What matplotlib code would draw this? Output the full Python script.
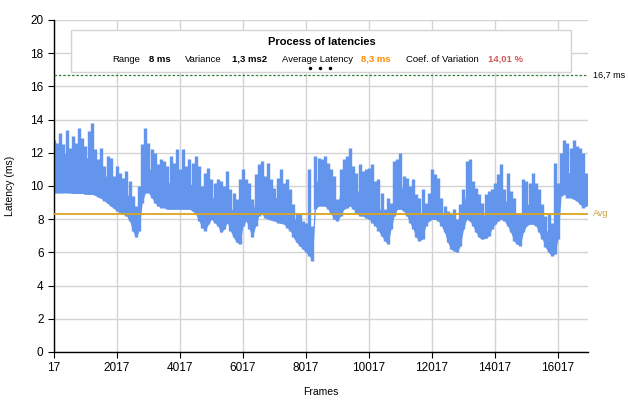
import numpy as np
import matplotlib
matplotlib.use("Agg")
import matplotlib.pyplot as plt

plt.rcParams["font.family"] = ["Liberation Sans", "DejaVu Sans"]

# data <<<
# one sample every 100 frames, starting at frame 17
frame_start = 17
frame_step = 100

lat_low = [
    9.6, 9.6, 9.6, 9.6, 9.6, 9.6, 9.55, 9.55, 9.55, 9.55,
    9.5, 9.5, 9.5, 9.45, 9.35, 9.25, 9.1, 8.95, 8.8, 8.65,
    8.5, 8.4, 8.3, 8.2, 7.9, 7.3, 6.9, 7.3, 9.0, 9.6,
    9.6, 9.3, 9.0, 8.8, 8.7, 8.7, 8.6, 8.6, 8.6, 8.6,
    8.6, 8.6, 8.6, 8.6, 8.5, 8.3, 7.9, 7.5, 7.3, 7.7,
    8.0, 7.8, 7.6, 7.2, 7.4, 7.8, 7.3, 6.9, 6.6, 6.5,
    7.6, 7.9, 7.4, 6.9, 7.6, 8.2, 8.3, 8.1, 8.0, 7.95,
    7.9, 7.8, 7.75, 7.7, 7.5, 7.3, 6.9, 6.6, 6.4, 6.2,
    6.0, 5.8, 5.5, 8.6, 8.8, 8.8, 8.8, 8.6, 8.3, 8.0,
    7.9, 8.2, 8.6, 8.7, 8.8, 8.6, 8.4, 8.2, 8.2, 8.1,
    8.0, 7.8, 7.6, 7.3, 7.0, 6.7, 6.5, 7.4, 8.2, 8.6,
    8.6, 8.5, 8.2, 7.8, 7.4, 6.9, 6.7, 6.8, 7.6, 7.9,
    8.0, 8.0, 7.9, 7.6, 7.2, 6.6, 6.2, 6.1, 6.0, 6.4,
    7.4, 8.0, 7.9, 7.6, 7.2, 6.9, 6.8, 6.85, 7.0, 7.4,
    7.7, 7.9, 8.0, 7.9, 7.6, 7.2, 6.7, 6.5, 6.4, 7.2,
    7.6, 7.7, 7.7, 7.6, 7.2, 6.8, 6.3, 6.0, 5.8, 5.9,
    6.8, 9.4, 9.5, 9.3, 9.3, 9.2, 9.1, 8.9, 8.7, 8.8,
]

lat_core = [
    12.0, 11.8, 12.2, 11.9, 12.0, 11.8, 12.0, 11.7, 12.1, 11.8,
    11.6, 11.8, 11.7, 11.3, 11.0, 11.0, 10.6, 10.6, 10.4, 10.0,
    10.0, 9.8, 9.6, 9.6, 9.3, 8.6, 8.2, 8.8, 10.6, 11.6,
    11.2, 10.8, 10.6, 10.2, 10.3, 10.2, 10.0, 10.4, 10.1, 10.5,
    10.0, 10.4, 10.0, 10.2, 10.0, 10.2, 9.6, 9.0, 9.4, 9.6,
    9.4, 9.2, 9.2, 9.0, 9.0, 9.4, 8.8, 8.4, 8.0, 8.6,
    9.4, 9.4, 8.8, 8.2, 9.4, 10.0, 10.2, 9.8, 10.0, 9.6,
    9.2, 9.4, 9.6, 9.2, 9.2, 8.8, 8.2, 7.8, 7.6, 7.3,
    7.1, 7.0, 6.6, 10.2, 10.4, 10.4, 10.4, 10.0, 9.6, 9.2,
    8.8, 9.8, 10.2, 10.4, 10.6, 10.0, 9.6, 9.8, 9.6, 9.6,
    9.6, 9.6, 9.0, 8.8, 8.4, 7.8, 7.8, 8.2, 10.0, 10.2,
    10.2, 9.6, 9.4, 9.0, 8.8, 8.4, 8.2, 8.4, 8.4, 8.8,
    9.4, 9.4, 9.2, 8.6, 8.0, 7.6, 7.2, 7.2, 7.0, 7.6,
    8.8, 9.8, 9.8, 9.2, 8.8, 8.4, 8.2, 8.3, 8.5, 8.8,
    9.0, 9.4, 9.6, 9.0, 9.2, 8.6, 8.0, 7.6, 7.4, 8.6,
    8.8, 9.0, 9.2, 9.0, 8.6, 8.0, 7.4, 7.2, 6.9, 7.2,
    7.8, 10.8, 11.0, 10.8, 10.8, 10.8, 10.6, 10.4, 10.2, 9.8,
]

lat_high = [
    12.8, 12.6, 13.2, 12.5, 13.4, 12.3, 13.0, 12.6, 13.5, 12.9,
    12.4, 13.3, 13.8, 12.2, 11.6, 12.3, 11.2, 11.8, 11.7, 10.6,
    11.2, 10.8, 10.5, 10.9, 10.3, 9.4, 8.8, 10.0, 12.5, 13.5,
    12.6, 12.2, 12.0, 11.3, 11.6, 11.5, 11.2, 11.8, 11.4, 12.2,
    11.0, 12.2, 11.2, 11.6, 11.4, 11.8, 11.2, 10.0, 10.8, 11.1,
    10.4, 10.2, 10.4, 10.3, 10.0, 10.9, 9.8, 9.6, 9.2, 10.4,
    11.0, 10.4, 10.2, 9.2, 10.7, 11.3, 11.5, 10.6, 11.4, 10.4,
    9.9, 10.5, 11.0, 10.2, 10.4, 9.8, 8.9, 8.4, 8.3, 7.9,
    7.8, 11.0, 7.6, 11.8, 11.7, 11.6, 11.8, 11.4, 11.0, 10.6,
    9.2, 11.0, 11.6, 11.8, 12.3, 11.2, 10.8, 11.3, 10.9, 11.0,
    11.1, 11.3, 10.3, 10.4, 9.6, 8.6, 9.3, 9.0, 11.5, 11.6,
    12.0, 10.6, 10.5, 10.0, 10.4, 9.5, 9.3, 9.8, 9.0, 9.6,
    11.0, 10.7, 10.5, 9.3, 8.8, 8.5, 8.3, 8.6, 8.0, 8.9,
    9.8, 11.5, 11.6, 10.3, 9.9, 9.5, 9.0, 9.5, 9.7, 9.8,
    10.2, 10.7, 11.3, 9.8, 10.8, 9.7, 9.3, 8.4, 8.3, 10.4,
    10.3, 10.2, 10.8, 10.2, 9.8, 8.9, 8.2, 8.3, 7.8, 11.4,
    10.2, 12.0, 12.8, 12.6, 12.3, 12.8, 12.4, 12.3, 12.0, 10.8,
]

frame_ticks = [17, 2017, 4017, 6017, 8017, 10017, 12017, 14017, 16017]
y_ticks = [0, 2, 4, 6, 8, 10, 12, 14, 16, 18, 20]

avg_latency = 8.3
target_latency = 16.7

stats = [
    ("Range", "8 ms", "black"),
    ("Variance", "1,3 ms2", "black"),
    ("Average Latency", "8,3 ms", "#FF8C00"),
    ("Coef. of Variation", "14,01 %", "#CD5C5C"),
]
# >>>

frames = frame_start + frame_step * np.arange(len(lat_low))

# plot <<<
W, H = 628, 404
fig = plt.figure(figsize=(W / 100, H / 100), dpi=100)
ax = fig.add_axes([54 / W, 1 - 352 / H, (588 - 54) / W, (352 - 20) / H])

blue = "#6495ED"
ax.fill_between(frames, lat_low, lat_core, color=blue, lw=0, zorder=2)
# spikes: wide enough that neighbouring samples merge into one jagged band
ax.vlines(frames, lat_low, lat_high, color=blue, lw=2.45, zorder=2)

ax.axhline(avg_latency, color="#DAA520", lw=1.3, zorder=4)
ax.axhline(target_latency, color="#2E7D32", lw=0.9, ls=(0, (2, 1.5)), zorder=4)

ax.set_xlim(17, 16970)
ax.set_ylim(0, 20)
ax.set_xticks(frame_ticks)
ax.set_yticks(y_ticks)
ax.tick_params(labelsize=8.5, length=4, width=0.8, color="black")
ax.grid(True, color="#D3D3D3", lw=1)
ax.set_axisbelow(True)
for s in ["top", "right"]:
    ax.spines[s].set_visible(False)
for s in ["left", "bottom"]:
    ax.spines[s].set_linewidth(1.0)

ax.set_xlabel("Frames", fontsize=7.5, labelpad=9)
ax.set_ylabel("Latency (ms)", fontsize=7.5, labelpad=11)

# right-hand labels
fig.text(593 / W, 1 - 75 / H, "16,7 ms", fontsize=6.5, va="center", ha="left")
fig.text(593 / W, 1 - 214 / H, "Avg", fontsize=6.5, va="center", ha="left", color="#C8A040")

# title / statistics box
box = plt.Rectangle((71 / W, 1 - 72 / H), (571 - 71) / W, 42 / H,
                    transform=fig.transFigure, facecolor="white",
                    edgecolor="#D3D3D3", lw=1, zorder=5)
fig.patches.append(box)
fig.text(322 / W, 1 - 42 / H, "Process of latencies", fontsize=8, fontweight="bold",
         ha="center", va="center", zorder=6)

label_x = [112, 185, 282, 406]
value_x = [149, 232, 361, 488]
for (lab, val, col), lx, vx in zip(stats, label_x, value_x):
    fig.text(lx / W, 1 - 59 / H, lab, fontsize=6.8, ha="left", va="center", zorder=6)
    fig.text(vx / W, 1 - 59 / H, val, fontsize=6.8, fontweight="bold", color=col,
             ha="left", va="center", zorder=6)
fig.add_artist(plt.Line2D([310 / W, 320 / W, 330 / W], [1 - 67.5 / H] * 3,
                          transform=fig.transFigure, ls="none", marker="o",
                          ms=1.5, color="black", zorder=6))

fig.savefig("out.png", dpi=100)
# >>>
